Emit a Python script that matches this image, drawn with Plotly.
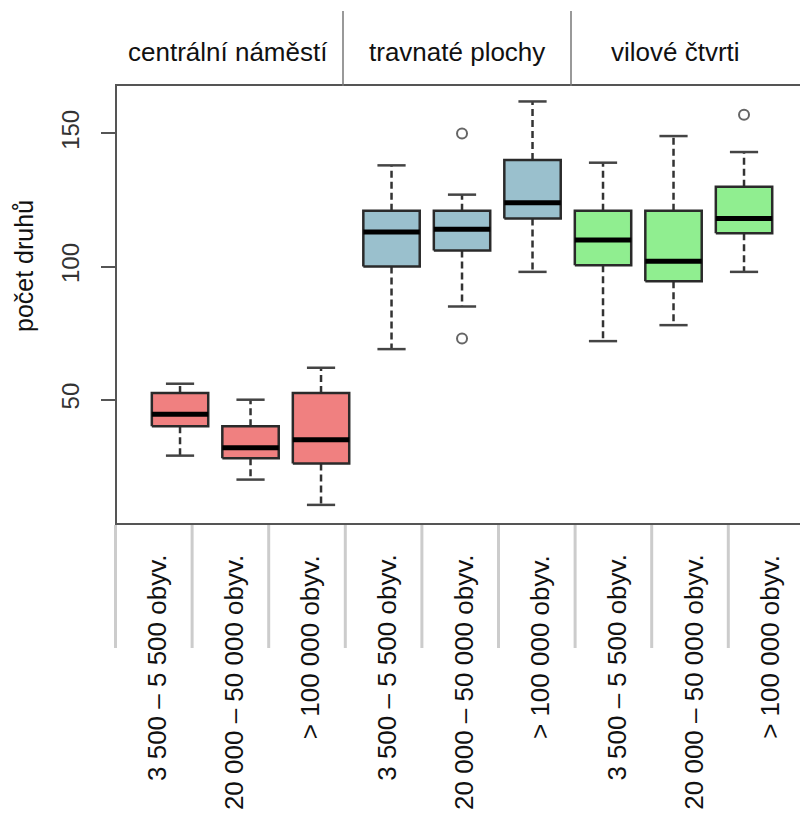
import plotly.graph_objects as go

# ---------------- data ----------------
habitats = ["centrální náměstí", "travnaté plochy", "vilové čtvrti"]
size_labels = ["3 500 – 5 500 obyv.", "20 000 – 50 000 obyv.", "> 100 000 obyv."]
lower_whisker = [29, 20, 10.5, 69, 85, 98, 72, 78, 98]
q1 = [40, 28, 26, 100, 106, 118, 100.5, 94.5, 112.5]
median = [44.5, 32, 35, 113, 114, 124, 110, 102, 118]
q3 = [52.5, 40, 52.5, 121, 121, 140, 121, 121, 130]
upper_whisker = [56, 50, 62, 138, 127, 162, 139, 149, 143]
outlier_box = [5, 5, 9]          # 1-based box index
outlier_val = [150, 73, 157]
y_ticks = [50, 100, 150]
fill_colors = ["#F08080", "#9AC0CD", "#90EE90"]

# ---------------- layout constants ----------------
W, H = 800, 816
L, R, T, B = 117, 0, 86, 293
PW, PH = W - L - R, H - T - B

def px(xp):
    return (xp - L) / PW

def py(yp):
    return (H - B - yp) / PH

n = len(median)
half_box = 0.4
half_cap = 0.2

fig = go.Figure()

# whiskers (dashed)
wx, wy = [], []
for i in range(n):
    x = i + 1
    wx += [x, x, None, x, x, None]
    wy += [q3[i], upper_whisker[i], None, q1[i], lower_whisker[i], None]
fig.add_trace(go.Scatter(x=wx, y=wy, mode="lines",
                         line=dict(color="#333333", width=2.5, dash="7px,4px"),
                         hoverinfo="skip", showlegend=False))
# caps
cx, cy = [], []
for i in range(n):
    x = i + 1
    cx += [x - half_cap, x + half_cap, None, x - half_cap, x + half_cap, None]
    cy += [upper_whisker[i], upper_whisker[i], None, lower_whisker[i], lower_whisker[i], None]
fig.add_trace(go.Scatter(x=cx, y=cy, mode="lines",
                         line=dict(color="#444444", width=2.5),
                         hoverinfo="skip", showlegend=False))
# boxes
for i in range(n):
    x = i + 1
    fig.add_trace(go.Scatter(
        x=[x - half_box, x + half_box, x + half_box, x - half_box, x - half_box],
        y=[q1[i], q1[i], q3[i], q3[i], q1[i]],
        mode="lines", fill="toself", fillcolor=fill_colors[i // 3],
        line=dict(color="#2a2a2a", width=2.5),
        hoverinfo="skip", showlegend=False))
# medians
mx, my = [], []
for i in range(n):
    x = i + 1
    mx += [x - half_box, x + half_box, None]
    my += [median[i], median[i], None]
fig.add_trace(go.Scatter(x=mx, y=my, mode="lines",
                         line=dict(color="#000000", width=5),
                         hoverinfo="skip", showlegend=False))
# outliers
fig.add_trace(go.Scatter(x=outlier_box, y=outlier_val, mode="markers",
                         marker=dict(symbol="circle-open", size=10,
                                     color="#666666", line=dict(width=2)),
                         hoverinfo="skip", showlegend=False))

shapes = []
annotations = []

# top header separators and labels
for xp in [343, 571]:
    shapes.append(dict(type="line", xref="paper", yref="paper",
                       x0=px(xp), x1=px(xp), y0=py(86), y1=py(11),
                       line=dict(color="#777777", width=1.5)))
for lab, xc in zip(habitats, [228, 457, 675]):
    annotations.append(dict(text=lab, xref="paper", yref="paper",
                            x=px(xc), y=py(52), xanchor="center", yanchor="middle",
                            showarrow=False,
                            font=dict(family="Liberation Sans", size=26, color="#111111")))

# bottom label table
for k in range(9):
    xs = 115.5 + 76.6 * k
    shapes.append(dict(type="line", xref="paper", yref="paper",
                       x0=px(xs), x1=px(xs), y0=py(525), y1=py(648),
                       line=dict(color="#CCCCCC", width=3)))
    annotations.append(dict(text=size_labels[k % 3], xref="paper", yref="paper",
                            x=px(157 + 76.6 * k), y=py(553), xanchor="center", yanchor="top",
                            textangle=-90, showarrow=False,
                            font=dict(family="Liberation Sans", size=26, color="#111111")))

# y title
annotations.append(dict(text="počet druhů", xref="paper", yref="paper",
                        x=px(24), y=py(266), xanchor="center", yanchor="middle",
                        textangle=-90, showarrow=False,
                        font=dict(family="Liberation Sans", size=25, color="#111111")))

fig.update_layout(
    width=W, height=H,
    margin=dict(l=L, r=R, t=T, b=B, pad=0),
    paper_bgcolor="white", plot_bgcolor="white",
    xaxis=dict(range=[0.106, 9.794], showgrid=False, zeroline=False,
               showticklabels=False, ticks="", showline=True, mirror=True,
               linecolor="#555555", linewidth=2),
    yaxis=dict(range=[3.7, 167.8], showgrid=False, zeroline=False,
               tickvals=y_ticks, ticktext=[str(v) for v in y_ticks],
               ticks="outside", ticklen=14, tickwidth=2, tickcolor="#555555",
               tickangle=-90, ticklabelstandoff=12,
               tickfont=dict(family="Liberation Sans", size=24, color="#333333"),
               showline=True, linecolor="#555555", linewidth=2),
    shapes=shapes, annotations=annotations,
)

fig.write_html("out.html",
               config={"displayModeBar": False},
               post_script="document.body.style.margin='0';document.body.style.overflow='hidden';")
